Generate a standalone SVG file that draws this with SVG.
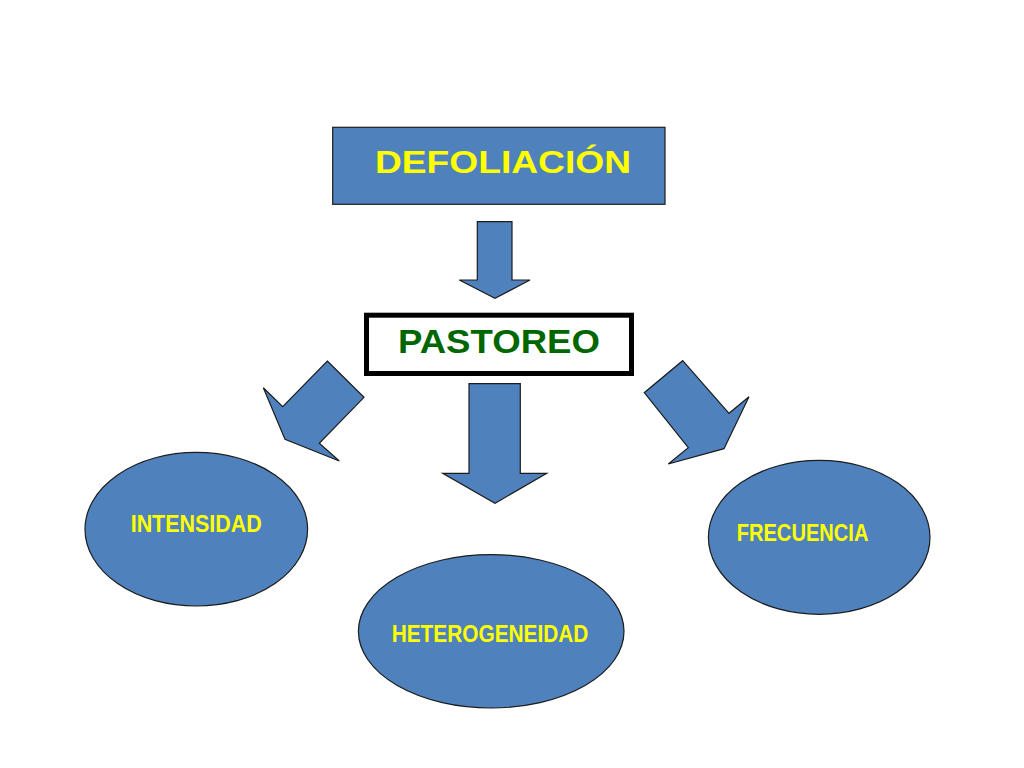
<svg xmlns="http://www.w3.org/2000/svg" width="1024" height="768" viewBox="0 0 1024 768">
<style>
.shape{fill:#4F81BD;stroke:#1c1c1c;stroke-width:1.2}
.lbl{font-family:"Liberation Sans",Arial,sans-serif;font-weight:bold;fill:#FFFF00;font-size:23px}
.title{font-family:"Liberation Sans",Arial,sans-serif;font-weight:bold}
</style>
<rect width="1024" height="768" fill="#ffffff"/>
<g id="defoliacion">
<rect class="shape" x="332.7" y="127.3" width="332.3" height="77"/>
<text class="title" x="375" y="172.5" font-size="32" fill="#FFFF00" textLength="256" lengthAdjust="spacingAndGlyphs">DEFOLIACIÓN</text>
</g>
<g id="pastoreo">
<rect x="366.5" y="315.2" width="265" height="58.3" fill="#ffffff" stroke="#000000" stroke-width="5"/>
<text class="title" x="398" y="352.7" font-size="34" fill="#006600" textLength="202" lengthAdjust="spacingAndGlyphs">PASTOREO</text>
</g>
<g id="connectors">
<polygon class="shape" points="477.3,221.7 512,221.7 512,280 530,280 495,298.3 459.3,280 477.3,280"/>
<polygon class="shape" points="469,383.7 520.3,383.7 520.3,473.3 546.7,473.3 495,503.3 442.7,473.3 469,473.3"/>
<polygon class="shape" points="327.3,361 364,397.3 319.3,443.3 339.3,461 285,439.3 263.3,387.7 282.7,406.7"/>
<polygon class="shape" points="682.7,360.7 729,413.3 749,396.7 724,448.7 668.3,464 688.3,447.7 644.3,392.7"/>
</g>
<g id="intensidad">
<ellipse class="shape" cx="196.3" cy="529.2" rx="111.3" ry="76.8"/>
<text class="lbl" x="130.7" y="532.3" textLength="131" lengthAdjust="spacingAndGlyphs">INTENSIDAD</text>
</g>
<g id="heterogeneidad">
<ellipse class="shape" cx="491.2" cy="631.3" rx="132.8" ry="76.7"/>
<text class="lbl" x="391.7" y="642.3" textLength="196.7" lengthAdjust="spacingAndGlyphs">HETEROGENEIDAD</text>
</g>
<g id="frecuencia">
<ellipse class="shape" cx="819.2" cy="537.3" rx="110.8" ry="77"/>
<text class="lbl" x="736.7" y="541.3" textLength="131.7" lengthAdjust="spacingAndGlyphs">FRECUENCIA</text>
</g>
</svg>
